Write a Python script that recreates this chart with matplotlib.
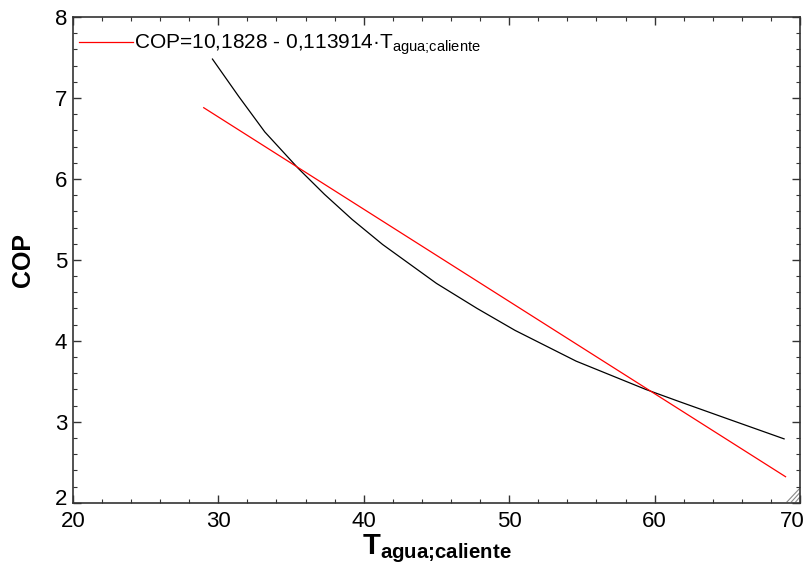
import matplotlib
matplotlib.use("Agg")
import matplotlib.pyplot as plt
import matplotlib.transforms as mtransforms
import numpy as np

plt.rcParams['font.family'] = ['Liberation Sans', 'DejaVu Sans']
plt.rcParams['mathtext.fontset'] = 'custom'
plt.rcParams['mathtext.rm'] = 'Liberation Sans'
plt.rcParams['mathtext.it'] = 'Liberation Sans:italic'
plt.rcParams['mathtext.bf'] = 'Liberation Sans:bold'

# COP curve
t_agua = [29.6, 31.4, 33.2, 35.5, 37.3, 39.2, 41.3, 45.0, 47.8, 50.4,
          54.6, 59.4, 61.7, 64.9, 68.9]
cop = [7.48, 7.02, 6.58, 6.13, 5.81, 5.50, 5.19, 4.71, 4.40, 4.13,
       3.75, 3.40, 3.25, 3.045, 2.79]

# linear fit given in the legend
fit_a = 10.1828
fit_b = 0.113914
fit_range = [29.0, 69.0]

# greek question mark looks like ';' but mathtext does not pad it
semi = '\u037e'

fig = plt.figure(figsize=(8.09, 5.65), dpi=100)
ax = fig.add_axes([0.090, 0.110, 0.899, 0.860])

ax.plot(t_agua, cop, color='black', lw=0.9)
t_fit = np.array(fit_range)
ax.plot(t_fit, fit_a - fit_b * t_fit, color='#ff0000', lw=0.9,
        label=r'COP=10,1828 - 0,113914·T$_{\mathregular{agua' + semi + r'caliente}}$')

ax.set_xlim(20, 70)
ax.set_ylim(2, 8)
ax.set_xticks(np.arange(20, 71, 10))
ax.set_xticks(np.arange(20, 71, 2), minor=True)
ax.set_yticks(np.arange(2, 9, 1))
ax.set_yticks(np.arange(2, 8.01, 0.2), minor=True)
ax.tick_params(which='both', direction='in', top=True, right=True, colors='#333333')
ax.tick_params(which='major', length=6, width=1, labelsize=16, labelcolor='black', pad=4)
ax.tick_params(which='minor', length=3, width=0.8)
ax.tick_params(axis='x', which='major', pad=6)
for s in ax.spines.values():
    s.set_linewidth(1.2)
    s.set_color('#333333')

# nudge corner labels so they stay inside and apart
last = ax.get_xticklabels()[-1]
last.set_transform(last.get_transform() + mtransforms.ScaledTranslation(-6 / 72, 0, fig.dpi_scale_trans))
first_y = ax.get_yticklabels()[0]
first_y.set_transform(first_y.get_transform() + mtransforms.ScaledTranslation(0, 4 / 72, fig.dpi_scale_trans))

ax.set_xlabel(r'T$_{\mathbf{agua' + semi + r'caliente}}$', fontsize=21, fontweight='bold', labelpad=0)
ax.set_ylabel('COP', fontsize=18, fontweight='bold', labelpad=14)

ax.legend(loc='upper left', bbox_to_anchor=(0.0, 0.98), frameon=False, fontsize=15,
          handlelength=2.6, handletextpad=0.05, borderaxespad=0.1, borderpad=0.2)

# resize grip in the corner
for k in [0.006, 0.012, 0.018]:
    ax.plot([1 - k, 0.999], [0.002, 0.002 + k * 1.5], transform=ax.transAxes,
            color='#888888', lw=0.8, clip_on=False)

fig.savefig('out.png', dpi=100)
